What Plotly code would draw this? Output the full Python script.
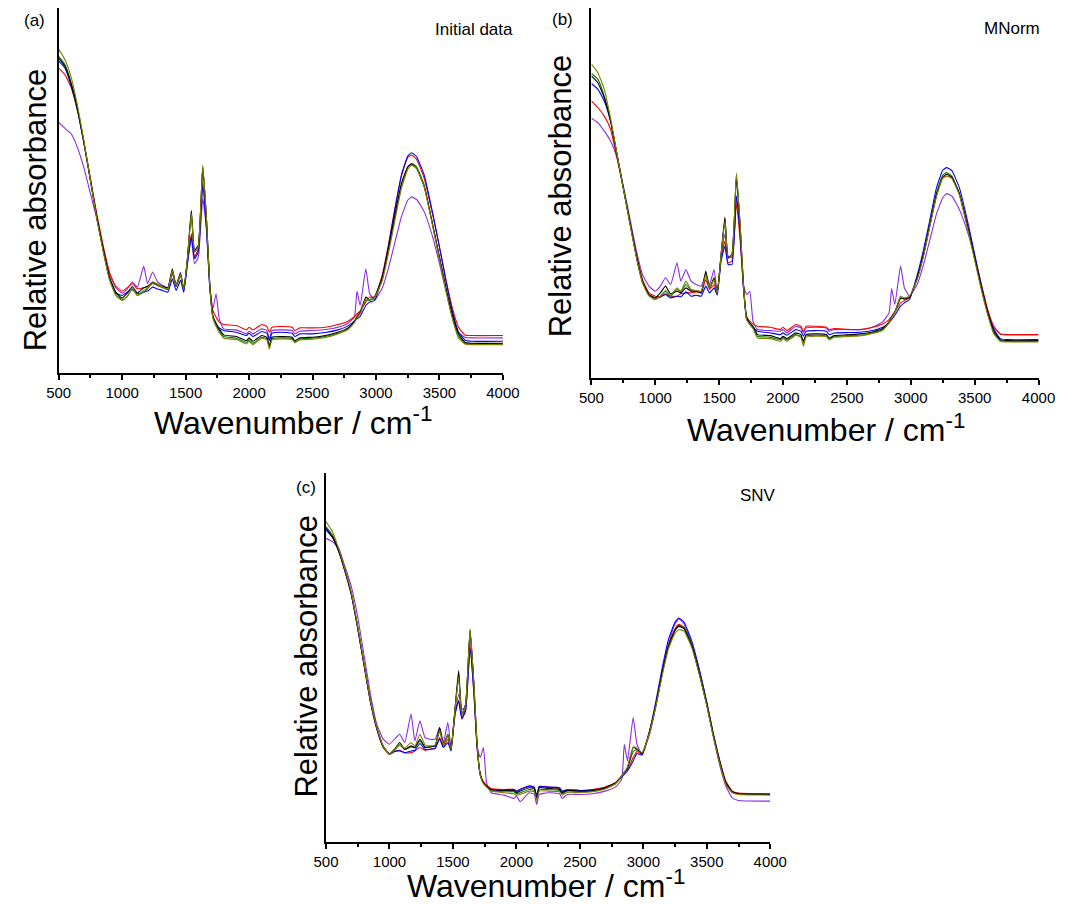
import plotly.graph_objects as go

# Wavenumber grid (cm-1) shared by every spectrum
wavenumber = [500, 550, 600, 650, 700, 750, 800, 850, 900, 950,
              1000, 1040, 1080, 1120, 1170, 1200, 1240, 1280, 1320, 1360,
              1395, 1425, 1460, 1485, 1515, 1545, 1570, 1600, 1635, 1665,
              1690, 1715, 1740, 1765, 1800, 1900, 1980, 2000, 2030, 2100,
              2140, 2160, 2180, 2250, 2340, 2360, 2400, 2500, 2600, 2700,
              2780, 2830, 2850, 2875, 2920, 2950, 2990, 3050, 3100, 3150,
              3200, 3250, 3280, 3320, 3380, 3450, 3500, 3550, 3600, 3650,
              3700, 3750, 4000]

# ---- (a) Initial data (relative absorbance, arbitrary units) ----
a_black = [94.2, 91.7, 86.2, 78.7, 68.7, 57.7, 46.7, 37.2, 28.7, 24.2,
           22.4, 23.9, 25.9, 23.9, 25.5, 25.9, 27.2, 26.5, 25.9, 25.5,
           31.2, 26.2, 29.7, 25.2, 34.7, 48.7, 36.7, 38.2, 61.5, 45.7,
           26.7, 17.2, 14.9, 13.2, 11.4, 10.9, 9.7, 10.5, 9.5, 11.2,
           10.7, 8.2, 10.7, 10.9, 10.7, 9.7, 10.5, 10.7, 11.2, 12.2,
           13.5, 15.5, 16.9, 18.2, 22.7, 21.9, 22.9, 28.7, 37.7, 47.7,
           56.7, 61.7, 62.5, 61.2, 55.7, 43.7, 34.7, 25.7, 17.7, 11.7,
           9.2, 8.9, 8.9]
a_red = [91.2, 89.2, 85.2, 78.2, 68.7, 58.2, 47.7, 38.2, 30.2, 25.9,
         24.5, 25.5, 26.7, 25.2, 25.5, 25.9, 26.9, 26.2, 25.7, 25.2,
         29.9, 25.9, 29.5, 24.9, 33.7, 41.7, 34.7, 37.2, 56.9, 43.7,
         26.7, 18.7, 16.7, 15.2, 14.5, 14.2, 12.9, 13.7, 12.9, 14.5,
         13.9, 12.2, 13.7, 13.9, 13.7, 12.7, 13.5, 13.5, 13.7, 14.5,
         15.5, 16.9, 17.7, 18.5, 21.2, 22.7, 22.7, 29.5, 38.9, 49.5,
         58.9, 64.5, 65.2, 63.9, 58.2, 46.7, 37.7, 28.2, 19.7, 13.7,
         11.4, 11.2, 11.2]
a_blue = [93.4, 91.2, 85.7, 78.2, 68.5, 57.7, 46.7, 36.9, 28.4, 23.9,
          23.2, 24.2, 24.9, 23.7, 24.2, 24.5, 25.7, 25.1, 24.7, 24.2,
          28.2, 24.7, 27.7, 24.2, 32.7, 40.7, 34.2, 36.2, 56.2, 42.7,
          25.7, 16.7, 14.5, 13.5, 12.7, 12.2, 11.2, 11.9, 10.9, 12.4,
          11.9, 9.7, 11.9, 12.2, 11.9, 10.9, 11.7, 11.7, 12.1, 12.9,
          14.1, 15.5, 16.2, 16.9, 20.2, 21.2, 21.7, 28.7, 38.2, 49.2,
          59.2, 64.9, 65.9, 64.7, 59.2, 47.2, 37.7, 27.7, 18.7, 12.2,
          9.9, 9.5, 9.5]
a_green = [94.7, 92.2, 86.7, 78.7, 68.7, 57.7, 46.5, 36.7, 28.2, 23.5,
           21.9, 22.9, 25.2, 23.2, 24.2, 25.2, 26.9, 26.2, 25.5, 24.9,
           30.5, 25.9, 29.2, 24.9, 34.2, 47.7, 36.2, 37.9, 61.7, 45.5,
           26.5, 16.7, 14.2, 12.7, 10.9, 10.4, 9.2, 9.9, 8.9, 10.7,
           10.2, 7.7, 10.2, 10.5, 10.3, 9.3, 10.2, 10.4, 10.9, 11.9,
           13.2, 15.2, 16.7, 17.9, 21.9, 21.7, 22.5, 28.2, 36.9, 46.7,
           55.9, 61.5, 62.7, 61.7, 56.2, 43.7, 34.5, 25.2, 16.9, 10.9,
           8.9, 8.7, 8.7]
a_olive = [96.9, 93.7, 88.2, 79.7, 69.2, 57.7, 46.2, 36.5, 27.9, 23.2,
           21.7, 22.9, 25.5, 23.2, 24.7, 25.5, 27.2, 26.5, 25.7, 25.2,
           30.7, 26.2, 29.5, 25.1, 34.5, 47.7, 36.2, 37.9, 62.2, 45.7,
           26.5, 16.5, 13.9, 12.2, 10.4, 10.0, 8.7, 9.5, 8.5, 10.4,
           9.9, 7.2, 9.9, 10.2, 10.0, 9.0, 9.9, 10.1, 10.6, 11.7,
           13.0, 15.1, 16.5, 17.7, 22.2, 21.9, 22.7, 27.7, 36.2, 45.9,
           55.2, 60.9, 62.2, 61.2, 55.7, 43.2, 33.9, 24.7, 16.5, 10.5,
           8.7, 8.5, 8.5]
a_purple = [75.0, 73.2, 71.5, 67.2, 61.2, 53.7, 46.2, 37.7, 29.7, 25.5,
            23.9, 25.2, 27.2, 25.7, 31.9, 26.7, 30.2, 27.2, 26.2, 25.5,
            29.9, 26.2, 30.2, 24.2, 33.2, 40.5, 32.7, 34.7, 52.2, 42.7,
            25.7, 19.2, 23.7, 16.2, 13.2, 12.9, 11.7, 12.5, 11.7, 13.2,
            12.7, 10.2, 12.7, 12.9, 12.7, 11.7, 12.5, 12.7, 13.0, 13.7,
            14.9, 16.7, 24.5, 20.2, 31.2, 23.7, 21.9, 25.5, 31.7, 39.2,
            46.7, 51.7, 52.7, 51.9, 48.2, 40.2, 32.7, 24.7, 17.2, 12.2,
            10.7, 10.5, 10.5]

# ---- (b) MNorm ----
b_black = [90.5, 88.5, 84.0, 77.0, 67.0, 57.0, 47.0, 37.0, 29.0, 25.0,
           24.0, 25.5, 27.5, 25.2, 26.0, 25.5, 27.0, 26.0, 26.0, 25.5,
           32.0, 27.0, 30.0, 25.5, 37.0, 48.2, 36.0, 37.0, 60.0, 45.0,
           28.0, 18.0, 16.5, 15.5, 13.0, 12.7, 11.8, 12.5, 11.8, 13.5,
           13.0, 11.0, 13.0, 13.2, 13.0, 12.0, 12.7, 12.9, 13.2, 13.8,
           14.8, 16.8, 18.2, 19.8, 24.0, 23.7, 24.2, 30.0, 37.0, 46.0,
           54.8, 60.2, 61.0, 60.2, 55.2, 44.5, 36.0, 27.5, 20.0, 14.0,
           11.5, 11.2, 11.2]
b_red = [83.0, 81.0, 78.5, 74.5, 66.0, 56.8, 47.2, 37.5, 29.5, 25.5,
         24.5, 24.5, 25.2, 24.5, 24.5, 25.2, 25.5, 25.5, 25.8, 25.5,
         29.5, 26.5, 28.0, 25.2, 36.0, 41.0, 34.5, 35.0, 52.0, 41.0,
         27.0, 18.5, 17.0, 16.2, 15.5, 15.2, 14.5, 15.2, 14.2, 16.0,
         15.5, 14.0, 15.5, 15.5, 15.2, 14.5, 14.8, 14.6, 14.5, 15.2,
         16.2, 17.5, 18.5, 19.8, 22.5, 23.2, 24.0, 30.2, 37.2, 45.8,
         54.5, 60.0, 60.5, 60.0, 55.2, 44.8, 36.5, 28.5, 20.8, 15.5,
         13.2, 13.0, 13.0]
b_blue = [88.2, 86.5, 83.0, 76.8, 66.8, 56.8, 46.8, 36.8, 28.8, 25.0,
          24.0, 24.2, 25.0, 24.0, 24.5, 24.3, 25.8, 24.5, 24.8, 24.5,
          27.5, 25.5, 27.0, 24.8, 35.0, 39.5, 34.0, 34.0, 54.5, 42.5,
          27.0, 17.5, 16.2, 15.2, 14.0, 13.5, 13.0, 13.5, 12.8, 14.5,
          14.0, 12.5, 14.0, 14.2, 14.0, 13.0, 13.5, 13.6, 13.7, 14.2,
          15.2, 16.5, 17.5, 18.8, 21.5, 22.5, 23.5, 30.8, 38.5, 47.5,
          56.8, 62.2, 63.0, 62.2, 57.0, 46.0, 37.0, 28.0, 20.0, 14.5,
          11.8, 11.5, 11.5]
b_green = [91.2, 89.5, 84.5, 77.2, 67.0, 56.8, 46.7, 36.7, 28.7, 24.8,
           23.5, 24.5, 26.0, 24.5, 26.5, 25.8, 28.0, 26.2, 26.0, 25.8,
           31.0, 26.8, 29.5, 25.5, 36.8, 47.5, 35.8, 36.8, 61.0, 45.2,
           28.0, 17.8, 16.2, 15.0, 12.5, 12.2, 11.5, 12.2, 11.4, 13.0,
           12.5, 10.5, 12.6, 12.8, 12.6, 11.6, 12.4, 12.6, 12.8, 13.5,
           14.5, 16.6, 18.0, 19.6, 23.8, 23.7, 24.2, 29.8, 37.0, 46.2,
           55.2, 60.8, 61.5, 60.5, 55.2, 44.2, 35.8, 27.2, 19.5, 13.6,
           11.2, 11.0, 11.0]
b_olive = [94.0, 91.5, 86.5, 77.8, 67.2, 56.8, 46.5, 36.5, 28.5, 24.6,
           23.5, 24.5, 26.2, 24.8, 27.0, 26.0, 29.0, 26.5, 26.2, 26.0,
           31.0, 27.0, 29.5, 25.5, 36.8, 47.0, 35.8, 36.8, 61.3, 45.5,
           28.0, 17.5, 16.0, 14.8, 12.0, 11.8, 11.0, 11.8, 11.0, 12.8,
           12.2, 9.5, 12.2, 12.5, 12.4, 11.4, 12.2, 12.4, 12.6, 13.3,
           14.3, 16.5, 18.0, 19.6, 24.5, 24.0, 24.5, 29.5, 36.5, 45.5,
           54.2, 59.8, 60.5, 59.8, 54.8, 43.8, 35.2, 26.8, 19.2, 13.2,
           11.0, 10.8, 10.8]
b_purple = [77.8, 76.5, 74.0, 71.0, 66.0, 57.5, 48.0, 38.5, 31.0, 27.5,
            26.0, 27.5, 30.0, 28.0, 34.5, 29.0, 32.5, 29.0, 28.0, 27.5,
            31.0, 28.0, 32.5, 25.5, 36.0, 43.0, 36.5, 36.0, 54.0, 43.0,
            28.0, 25.0, 26.0, 17.0, 14.5, 14.2, 14.0, 14.5, 13.5, 15.5,
            15.0, 13.5, 15.0, 15.2, 15.0, 14.0, 14.5, 14.5, 14.5, 15.2,
            16.8, 19.5, 26.8, 22.0, 33.5, 27.0, 24.5, 28.0, 34.0, 41.5,
            49.0, 54.0, 55.2, 54.5, 50.5, 43.0, 36.0, 28.0, 20.2, 15.0,
            13.2, 13.0, 13.0]

# ---- (c) SNV ----
c_black = [93.7, 91.2, 87.0, 81.0, 74.0, 64.0, 53.0, 42.2, 34.2, 28.7,
           26.4, 27.7, 29.7, 27.7, 28.7, 28.2, 30.7, 28.2, 28.4, 28.7,
           34.2, 29.2, 32.2, 27.7, 39.2, 51.2, 38.2, 41.2, 63.2, 47.2,
           29.2, 20.2, 17.7, 16.7, 15.7, 15.4, 15.4, 14.7, 15.2, 16.2,
           16.0, 13.2, 16.2, 16.0, 15.7, 14.7, 15.4, 15.2, 15.4, 16.2,
           17.7, 19.7, 20.7, 22.2, 28.2, 27.7, 26.4, 33.2, 41.2, 50.7,
           58.7, 63.2, 64.4, 63.7, 58.7, 49.2, 41.2, 32.2, 24.2, 17.7,
           15.0, 14.4, 14.2]
c_red = [93.4, 91.0, 86.8, 80.7, 73.7, 63.7, 52.7, 41.8, 33.7, 28.2,
         26.2, 27.0, 27.4, 26.7, 26.7, 27.2, 28.2, 27.4, 27.7, 28.0,
         31.2, 28.4, 30.7, 27.4, 38.4, 42.2, 37.2, 40.0, 59.2, 44.2,
         28.4, 20.4, 18.0, 17.0, 16.0, 15.7, 15.7, 15.2, 15.7, 16.7,
         16.4, 13.7, 16.6, 16.4, 16.0, 15.0, 15.6, 15.4, 15.7, 16.4,
         17.7, 19.7, 20.6, 21.7, 25.2, 27.0, 26.2, 33.2, 41.4, 51.0,
         59.0, 63.7, 65.0, 64.2, 59.2, 49.7, 41.7, 32.7, 24.7, 18.2,
         15.2, 14.6, 14.4]
c_blue = [93.2, 91.0, 86.8, 80.8, 73.8, 63.8, 52.8, 41.9, 33.9, 28.4,
          26.2, 27.0, 27.2, 26.7, 27.2, 27.4, 29.4, 27.6, 27.7, 28.0,
          30.7, 28.2, 29.7, 27.2, 38.0, 42.2, 36.7, 39.2, 57.7, 44.7,
          28.4, 20.0, 17.7, 16.7, 15.7, 15.4, 15.7, 15.2, 15.7, 16.7,
          16.4, 13.7, 16.6, 16.4, 16.2, 15.2, 15.6, 15.4, 15.5, 16.2,
          17.4, 19.4, 20.2, 21.2, 24.2, 26.4, 26.0, 33.2, 42.2, 52.2,
          60.7, 65.7, 66.9, 65.7, 60.2, 50.2, 41.7, 32.4, 24.4, 17.7,
          15.0, 14.4, 14.2]
c_green = [94.2, 91.7, 87.2, 81.2, 74.2, 64.2, 53.2, 42.2, 34.2, 28.6,
           26.2, 27.4, 29.0, 27.6, 28.4, 28.2, 30.2, 28.4, 28.4, 28.7,
           33.2, 29.0, 31.7, 27.6, 39.0, 49.7, 38.0, 41.0, 62.7, 47.0,
           29.2, 20.2, 17.6, 16.6, 15.4, 15.0, 15.0, 14.4, 14.7, 15.7,
           15.4, 12.7, 15.7, 15.6, 15.4, 14.4, 15.2, 15.0, 15.2, 16.0,
           17.5, 19.7, 20.7, 22.0, 27.0, 27.6, 26.4, 33.0, 41.0, 50.6,
           58.7, 63.4, 64.7, 64.0, 59.0, 49.2, 41.2, 32.0, 24.0, 17.5,
           14.9, 14.5, 14.4]
c_olive = [95.7, 92.7, 87.6, 81.4, 74.4, 64.4, 53.4, 42.4, 34.4, 28.7,
           26.2, 27.6, 29.2, 28.0, 29.7, 28.6, 32.2, 29.0, 28.7, 29.0,
           33.2, 29.2, 32.0, 27.7, 39.0, 49.2, 38.0, 41.0, 63.7, 47.2,
           29.2, 20.0, 17.4, 16.4, 15.2, 14.7, 14.4, 14.0, 14.2, 15.2,
           15.0, 12.4, 15.2, 15.2, 15.0, 14.0, 14.8, 14.8, 15.0, 15.8,
           17.4, 19.7, 20.8, 22.4, 28.4, 28.0, 26.7, 32.7, 40.7, 50.0,
           57.9, 62.4, 63.4, 63.0, 58.2, 48.7, 40.7, 31.7, 23.7, 17.2,
           14.7, 14.2, 14.0]
c_purple = [90.7, 89.7, 87.7, 82.2, 76.2, 67.2, 55.7, 44.2, 35.2, 30.7,
            29.2, 30.7, 32.2, 29.7, 38.2, 30.2, 36.2, 31.2, 30.7, 30.7,
            34.2, 29.7, 35.7, 28.2, 37.2, 44.2, 39.7, 40.2, 63.2, 46.2,
            28.7, 25.2, 28.2, 17.7, 14.7, 14.0, 13.0, 13.7, 12.0, 14.7,
            14.2, 11.2, 14.2, 14.7, 14.4, 13.0, 14.2, 14.2, 14.4, 15.2,
            16.4, 18.7, 29.2, 24.2, 37.2, 29.2, 26.2, 32.2, 40.7, 50.7,
            59.2, 65.2, 66.7, 65.2, 59.2, 48.7, 40.7, 31.7, 23.2, 16.7,
            13.2, 12.4, 12.2]

colors = {"purple": "#8b2be2", "red": "#ff0000", "blue": "#0000ff",
          "green": "#008000", "black": "#000000", "olive": "#808000"}

panels = [
    ("x", "y", {"purple": a_purple, "red": a_red, "blue": a_blue,
                "green": a_green, "black": a_black, "olive": a_olive}),
    ("x2", "y2", {"purple": b_purple, "red": b_red, "blue": b_blue,
                  "green": b_green, "black": b_black, "olive": b_olive}),
    ("x3", "y3", {"purple": c_purple, "red": c_red, "blue": c_blue,
                  "green": c_green, "black": c_black, "olive": c_olive}),
]

W, H = 1075, 904
FONT = "Arial, 'Liberation Sans', sans-serif"

fig = go.Figure()
for xa, ya, series in panels:
    for name, values in series.items():
        fig.add_trace(go.Scatter(
            x=wavenumber, y=values, mode="lines", xaxis=xa, yaxis=ya,
            line=dict(color=colors[name], width=1.1, shape="spline",
                      smoothing=0.4),
            showlegend=False, hoverinfo="skip"))


def px_x(p):
    return p / W


def px_y(p):
    return 1 - p / H


def xaxis_cfg(x0, x1, anchor):
    return dict(
        domain=[px_x(x0), px_x(x1)], anchor=anchor, range=[500, 4000],
        tickmode="linear", tick0=500, dtick=500,
        showline=True, linecolor="black", linewidth=2, mirror=False,
        ticks="outside", ticklen=5, tickwidth=1.5, tickcolor="black",
        tickfont=dict(family=FONT, size=15, color="black"),
        minor=dict(ticks="outside", ticklen=3, tickwidth=1.5,
                   tickcolor="black", dtick=250, tick0=500, showgrid=False),
        showgrid=False, zeroline=False,
    )


def yaxis_cfg(ytop, ybottom, anchor, top):
    return dict(
        domain=[px_y(ybottom), px_y(ytop)], anchor=anchor, range=[0, top],
        showline=True, linecolor="black", linewidth=2, ticks="",
        showticklabels=False, showgrid=False, zeroline=False,
    )


# Plot-area geometry for the three panels (pixel coordinates)
A = dict(x0=47, x1=504, y0=8, y1=373)
B = dict(x0=595, x1=1055, y0=8, y1=378)
C = dict(x0=322, x1=779, y0=473, y1=842)

fig.update_layout(
    width=W, height=H, margin=dict(l=0, r=0, t=0, b=0),
    paper_bgcolor="white", plot_bgcolor="white",
    xaxis=xaxis_cfg(A["x0"], A["x1"], "y"),
    yaxis=yaxis_cfg(A["y0"], A["y1"], "x", 109.2),
    xaxis2=xaxis_cfg(B["x0"], B["x1"], "y2"),
    yaxis2=yaxis_cfg(B["y0"], B["y1"], "x2", 110.8),
    xaxis3=xaxis_cfg(C["x0"], C["x1"], "y3"),
    yaxis3=yaxis_cfg(C["y0"], C["y1"], "x3", 110.2),
)


def label(text, x, y, size, angle=0, xanchor="center"):
    fig.add_annotation(
        text=text, x=px_x(x), y=px_y(y), xref="paper", yref="paper",
        xanchor=xanchor, yanchor="middle", showarrow=False, textangle=angle,
        font=dict(family=FONT, size=size, color="black"))


XTITLE = "Wavenumber / cm<sup>-1</sup>"
YTITLE = "Relative absorbance"

# Panel (a)
label("(a)", 22, 20, 17)
label("Initial data", 516, 30, 17, xanchor="right")
label(YTITLE, 24, 210, 31, angle=-90)
label(XTITLE, 288, 421, 32)

# Panel (b)
label("(b)", 565, 19, 17)
label("MNorm", 1059, 28, 17, xanchor="right")
label(YTITLE, 563, 196, 31, angle=-90)
label(XTITLE, 836, 428, 32)

# Panel (c)
label("(c)", 301, 487, 17)
label("SNV", 787, 496, 17, xanchor="right")
label(YTITLE, 301, 656, 31, angle=-90)
label(XTITLE, 548, 884, 32)

fig.write_html("out.html")
